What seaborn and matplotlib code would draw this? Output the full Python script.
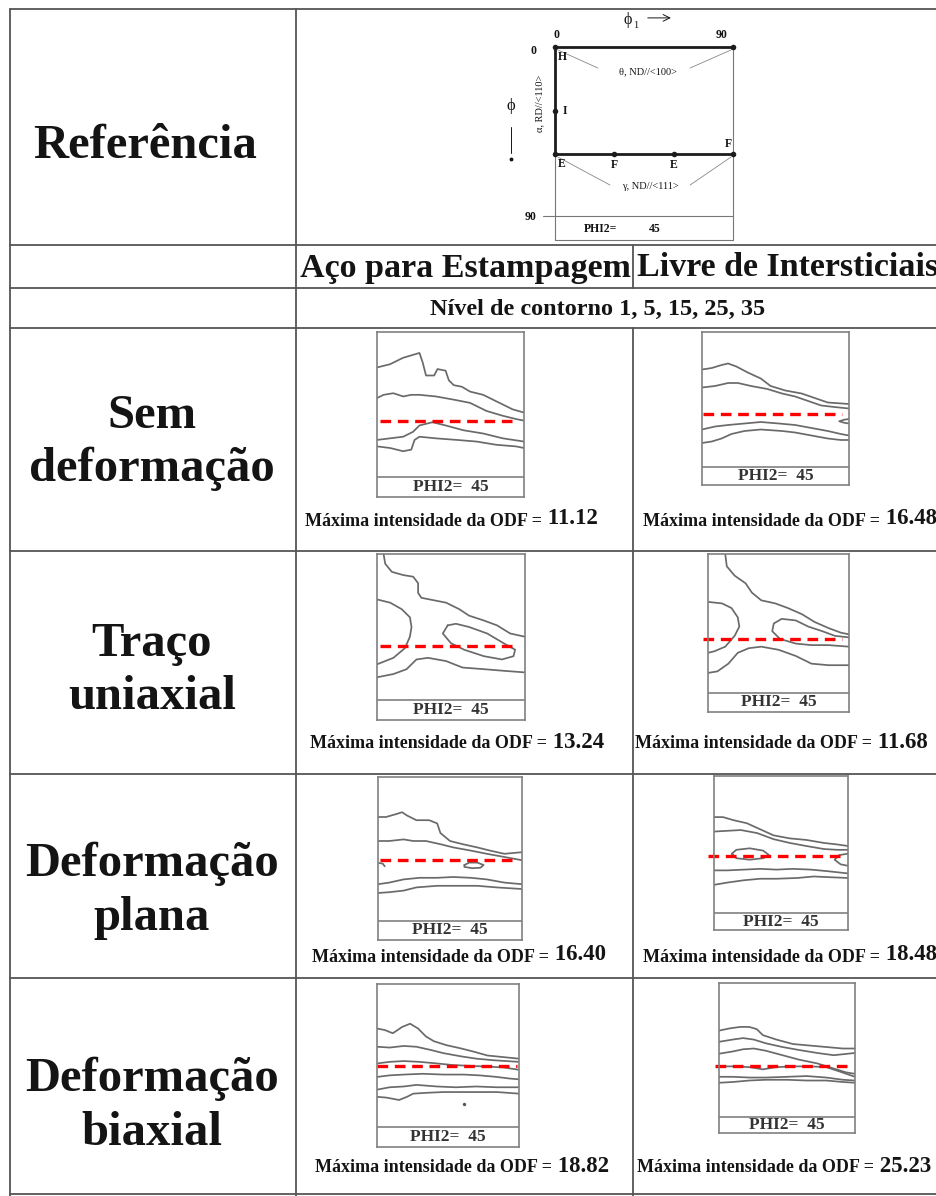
import matplotlib
matplotlib.use("Agg")
import matplotlib.pyplot as plt
import seaborn as sns

# ---------------- data ----------------
row_labels = [("Sem", "deformação"), ("Traço", "uniaxial"),
              ("Deformação", "plana"), ("Deformação", "biaxial")]
col_labels = ["Aço para Estampagem", "Livre de Intersticiais"]
contour_levels = [1, 5, 15, 25, 35]
max_intensity = [[11.12, 16.48], [13.24, 11.68], [16.40, 18.48], [18.82, 25.23]]
phi2_section = 45

# contour polylines per panel: (phi1 values, Phi values) in degrees
sem_aco = [
    ([0, 8, 16, 26, 28, 30, 35, 37, 42, 44, 47, 52, 57, 65, 73, 83, 90],
     [22, 20, 16, 13, 19, 27, 27, 23, 24, 30, 33, 34, 37, 39, 43, 48, 50]),
    ([0, 4, 10, 16, 21, 26, 36, 47, 57, 67, 77, 85, 90],
     [41, 39, 38, 40, 39, 39, 40, 42, 44, 49, 52, 54, 55]),
    ([0, 8, 16, 22, 26, 34, 42, 53, 65, 77, 90],
     [67, 66, 65, 62, 58, 56, 58, 61, 63, 66, 68]),
    ([0, 8, 16, 21, 23, 26, 36, 49, 61, 73, 85, 90],
     [71, 72, 74, 73, 67, 65, 66, 67, 68, 70, 71, 72]),
]
sem_if = [
    ([0, 6, 12, 16, 21, 28, 36, 42, 51, 61, 69, 77, 90],
     [25, 24, 22, 21, 23, 27, 31, 36, 39, 41, 44, 47, 48]),
    ([0, 8, 16, 22, 30, 40, 49, 57, 65, 73, 81, 90],
     [37, 36, 34, 34, 36, 38, 41, 43, 46, 49, 50, 51]),
    ([0, 8, 16, 26, 36, 47, 57, 67, 77, 85, 90],
     [65, 63, 62, 61, 60, 61, 62, 64, 66, 68, 69]),
    ([0, 6, 12, 18, 26, 36, 49, 57, 67, 77, 85, 90],
     [74, 73, 71, 68, 66, 65, 66, 67, 69, 71, 72, 72]),
    ([90, 87, 84, 87, 90], [58, 58.5, 59.5, 60.5, 61]),
]
tracao_aco = [
    ([4, 5, 9, 16, 22, 25, 25, 27, 32, 42, 50, 56, 65, 73, 81, 90],
     [0, 6, 11, 13, 14, 18, 24, 27, 28, 30, 34, 38, 41, 44, 49, 51]),
    ([0, 8, 15, 20, 21, 20, 17, 10, 0],
     [28, 30, 34, 39, 45, 51, 58, 64, 68]),
    ([0, 10, 18, 24, 31, 42, 52, 65, 77, 90],
     [76, 74, 71, 65, 64, 66, 70, 71, 72, 73]),
    ([43, 48, 56, 67, 77, 84, 83, 76, 65, 53, 45, 40, 43],
     [44, 43, 45, 49, 55, 59, 63, 65, 63, 59, 55, 49, 44]),
]
tracao_if = [
    ([11, 12, 17, 24, 28, 34, 43, 51, 60, 68, 77, 85, 90],
     [0, 8, 14, 19, 25, 30, 32, 35, 39, 44, 48, 51, 52]),
    ([0, 9, 15, 19, 20, 17, 11, 4, 0],
     [31, 32, 35, 41, 47, 53, 60, 63, 64]),
    ([0, 6, 13, 19, 26, 34, 45, 56, 66, 77, 90],
     [77, 76, 71, 64, 61, 60, 62, 66, 71, 72, 72]),
    ([90, 81, 73, 64, 56, 47, 42, 41, 46, 56, 66, 77, 90],
     [54, 53, 50, 47, 43, 42, 45, 50, 55, 58, 59, 59, 60]),
]
plana_aco = [
    ([0, 5, 12, 15, 18, 24, 32, 37, 39, 45, 53, 62, 70, 79, 90],
     [25, 25, 23, 22, 24, 27, 27, 29, 35, 40, 42, 44, 46, 48, 47]),
    ([0, 7, 16, 22, 30, 39, 47, 58, 68, 79, 90],
     [40, 40, 39, 40, 40, 42, 44, 46, 48, 50, 52]),
    ([54, 57, 62, 66, 64, 59, 54, 54],
     [55, 53.5, 53.5, 55, 56.7, 57, 56.2, 55]),
    ([0.6, 3, 4.2], [53.7, 54.2, 55.8]),
    ([0, 7, 16, 26, 37, 47, 58, 68, 79, 90],
     [67, 66, 64, 63, 63, 62.5, 63, 64, 66, 67]),
    ([0, 7, 16, 24, 37, 49, 62, 74, 90],
     [72.5, 72, 71, 69, 68, 68, 68, 69, 70]),
]
plana_if = [
    ([0, 6, 13, 22, 31, 40, 51, 62, 74, 83, 90],
     [27, 27, 29, 31, 35, 39, 41, 42, 44, 45, 46]),
    ([0, 9, 18, 29, 40, 51, 62, 74, 83, 90],
     [36.5, 36, 35.5, 37.5, 41.5, 44, 46, 48, 48.5, 48.5]),
    ([12, 15, 24, 33, 37, 33, 24, 15, 12],
     [51, 48.5, 47.5, 49, 52, 54, 55, 54, 51]),
    ([90, 84, 81, 85, 90], [51, 52, 55, 58, 59]),
    ([0, 9, 20, 31, 42, 53, 65, 76, 90],
     [62, 62, 61.5, 61, 61.5, 61, 61.5, 62.5, 64]),
    ([0, 9, 20, 31, 42, 56, 67, 78, 90],
     [71.5, 70, 68.5, 67.5, 67.5, 67, 66, 66.5, 67]),
]
biax_aco = [
    ([0, 5, 10, 16, 21, 26, 31, 36, 44, 53, 61, 70, 80, 90],
     [28, 29, 31, 27, 25, 28, 33, 36, 38.5, 40.5, 42.5, 45, 46, 47]),
    ([0, 8, 17, 25, 34, 42, 53, 63, 74, 90],
     [39.5, 40, 39, 39.5, 41.5, 43.5, 45.5, 47, 48, 49]),
    ([0, 8, 17, 27, 38, 48, 59, 70, 80, 90],
     [50, 49, 48.5, 49, 50, 51, 51.5, 52, 52.5, 54]),
    ([0, 8, 17, 29, 42, 55, 65, 76, 84, 90],
     [58.5, 57.5, 57, 56.5, 57, 57, 57.5, 58.5, 59.5, 60]),
    ([0, 8, 17, 25, 38, 50, 63, 76, 90],
     [66.5, 65, 64.5, 63.5, 64.5, 65, 64.5, 65, 65]),
    ([0, 6, 14, 19, 23, 31, 42, 53, 63, 76, 90],
     [71, 71.5, 73, 71, 69, 68.5, 68, 68, 68, 68, 69]),
]
biax_if = [
    ([0, 7, 14, 20, 25, 29, 38, 49, 60, 71, 82, 90],
     [32, 30.5, 29.5, 29.5, 31, 35, 38, 41, 42, 43, 44, 44]),
    ([0, 9, 16, 23, 31, 42, 53, 65, 76, 90],
     [39.5, 38, 37, 38, 40.5, 43, 45, 47, 48.5, 47]),
    ([0, 9, 16, 23, 31, 42, 53, 65, 76, 84, 90],
     [47.5, 46, 44.5, 44, 45.5, 48.5, 51.5, 54, 57.5, 60, 61]),
    ([0, 9, 20, 29, 38, 49, 60, 71, 80, 90],
     [56, 56, 56.5, 58, 56.5, 56, 56, 56.5, 59.5, 63]),
    ([0, 9, 20, 31, 45, 58, 71, 82, 90],
     [63, 63, 63.5, 63.5, 63, 62.5, 63.5, 65, 65.5]),
    ([0, 9, 20, 31, 45, 58, 71, 82, 90],
     [67, 66.5, 65.5, 65, 65, 65.5, 65.5, 66.5, 67]),
]
panel_lines = [[sem_aco, sem_if], [tracao_aco, tracao_if],
               [plana_aco, plana_if], [biax_aco, biax_if]]
panel_dots = {(3, 0): ([55], [75.7])}
# red dashed marker (gamma fibre) level, Phi in degrees
gamma_marker_phi = [[55.3, 54.8], [56.5, 54.9], [52.1, 52.4], [51.7, 55.8]]

# reference diagram: fibres and special orientations
theta_phi1, theta_Phi = [0, 90], [0, 0]
alpha_phi1, alpha_Phi = [0, 0], [0, 57]
gamma_phi1, gamma_Phi = [0, 90], [57, 57]
orient_names = ["H", "I", "E", "F", "E", "F", ""]
orient_phi1 = [0, 0, 0, 30, 60, 90, 90]
orient_Phi = [0, 34, 57, 57, 57, 57, 0]

# ---------------- layout / style ----------------
sns.set_theme(style="white")
plt.rcParams['font.family'] = ['Liberation Serif', 'DejaVu Serif']

W, H = 936, 1196
fig = plt.figure(figsize=(W / 100, H / 100), dpi=100)
fig.patch.set_facecolor('white')
bg = fig.add_axes([0, 0, 1, 1])
bg.set_xlim(0, W)
bg.set_ylim(H, 0)
bg.axis('off')

TXT = '#141414'
LINE = '#555555'
tl = dict(color=LINE, lw=1.3)

# table grid
for y in [9, 245, 288, 328, 551, 774, 978, 1194]:
    bg.plot([10, W], [y, y], **tl)
bg.plot([10, 10], [9, H], **tl)
bg.plot([296, 296], [9, H], **tl)
bg.plot([633, 633], [245, 288], **tl)
bg.plot([633, 633], [328, H], **tl)

bold = dict(fontweight='bold', color=TXT)
bg.text(145, 146, "Referência", fontsize=35, ha='center', va='center', **bold)
bg.text(465, 268, col_labels[0], fontsize=24.5, ha='center', va='center', **bold)
bg.text(637, 268, col_labels[1], fontsize=24.5, ha='left', va='center', **bold)
bg.text(598, 309, "Nível de contorno " + ", ".join(str(v) for v in contour_levels),
        fontsize=17.5, ha='center', va='center', **bold)

row_y = [(416, 469), (644, 697), (864, 918), (1079, 1133)]
for (l1, l2), (y1, y2) in zip(row_labels, row_y):
    bg.text(152, y1, l1, fontsize=35, ha='center', va='center', **bold)
    bg.text(152, y2, l2, fontsize=35, ha='center', va='center', **bold)

max_y = [521, 744, 957, 1168]
max_x = [[305, 643], [310, 635], [312, 643], [315, 637]]
for i, row in enumerate(max_intensity):
    for j, v in enumerate(row):
        t = bg.text(max_x[i][j], max_y[i], "Máxima intensidade da ODF =",
                    fontsize=13.0, ha='left', va='center', **bold)
        bg.annotate(f" {v:.2f}", xy=(1, 0), xycoords=t, ha='left', va='bottom',
                    fontsize=16.5, **bold)

# ---------------- ODF panels ----------------
boxes = [[(377, 332, 524, 497, 477), (702, 332, 849, 485, 467)],
         [(377, 554, 525, 720, 700), (708, 554, 849, 712, 693)],
         [(378, 777, 522, 940, 921), (714, 776, 848, 930, 913)],
         [(377, 984, 519, 1147, 1127), (719, 983, 855, 1133, 1117)]]
red_span = [[(1.8, 86.3), (0.6, 85.7)], [(1.8, 85.7), (-3.2, 85.7)],
            [(1.3, 86.9), (-4.0, 86.9)], [(0.0, 88.7), (-2.6, 88.0)]]
CONT = '#6a6a6a'
for i in range(4):
    for j in range(2):
        l, t, r, b, s = boxes[i][j]
        ax = fig.add_axes([l / W, 1 - b / H, (r - l) / W, (b - t) / H])
        strip = (b - s) / (s - t) * 90
        ax.set_xlim(0, 90)
        ax.set_ylim(90 + strip, 0)
        for xs, ys in panel_lines[i][j]:
            sns.lineplot(x=xs, y=ys, sort=False, estimator=None, color=CONT,
                         linewidth=1.25, ax=ax)
        if (i, j) in panel_dots:
            dx, dy = panel_dots[(i, j)]
            sns.scatterplot(x=dx, y=dy, color='#555', s=6, linewidth=0, ax=ax)
        ax.axhline(90, color='#808080', lw=1.2)
        ax.text(45, 90 + strip / 2, f"PHI2=  {phi2_section}", ha='center', va='center',
                fontsize=12.5, fontweight='bold', color='#333333')
        x0, x1 = red_span[i][j]
        ax.plot([x0, x1], [gamma_marker_phi[i][j]] * 2, color='#ff0000', lw=2.4,
                ls=(0, (3.2, 2.0)), clip_on=False)
        ax.set(xticks=[], yticks=[], xlabel='', ylabel='')
        for sp in ax.spines.values():
            sp.set_color('#808080')
            sp.set_linewidth(1.2)

# ---------------- reference diagram ----------------
rax = fig.add_axes([555 / W, 1 - 216 / H, 178 / W, 169 / H])
rax.set_xlim(0, 90)
rax.set_ylim(90, 0)
rax.axis('off')
sd = 24 * 90 / 169
thin = dict(color='#777777', lw=0.8, clip_on=False)
rax.plot([0, 0], [57, 90 + sd], **thin)
rax.plot([90, 90], [0, 90 + sd], **thin)
rax.plot([-6, 90], [90, 90], **thin)
rax.plot([0, 90], [90 + sd, 90 + sd], **thin)
for fx, fy in [(theta_phi1, theta_Phi), (alpha_phi1, alpha_Phi), (gamma_phi1, gamma_Phi)]:
    sns.lineplot(x=fx, y=fy, sort=False, estimator=None, color='#1c1c1c',
                 linewidth=2.0, ax=rax, clip_on=False)
sns.scatterplot(x=orient_phi1, y=orient_Phi, color='#1c1c1c', s=16, linewidth=0,
                ax=rax, clip_on=False, zorder=5)
rax.set(xlabel='', ylabel='')
lab_off = [(4, 5.5), (5, 0), (3.5, 5.5), (0, 6), (0, 6), (-2.5, -5.5), (0, 0)]
for nm, px, py, (ox, oy) in zip(orient_names, orient_phi1, orient_Phi, lab_off):
    if nm:
        rax.text(px + ox, py + oy, nm, fontsize=8.5, fontweight='bold',
                 ha='center', va='center', color=TXT, clip_on=False)
sm = dict(fontsize=8.5, fontweight='bold', ha='center', va='center', color=TXT)
rax.text(1, -6.4, "0", **sm)
rax.text(84.4, -6.4, "90", **sm)
rax.text(-11.1, 2.1, "0", **sm)
rax.text(-12.6, 90.5, "90", **sm)
rax.text(36.9, -14.3, "ϕ", fontsize=11.5, ha='center', va='center', color=TXT)
rax.text(41, -11.6, "1", fontsize=7.5, ha='center', va='center', color=TXT)
rax.annotate('', xy=(60, -15.5), xytext=(45.5, -15.5),
             arrowprops=dict(arrowstyle='->', lw=0.7, color=TXT), annotation_clip=False)
rax.text(-22.2, 31.4, "ϕ", fontsize=12, ha='center', va='center', color=TXT)
rax.plot([-22.2, -22.2], [42.6, 56.4], color=TXT, lw=0.7, clip_on=False)
rax.plot([-22.2], [59.6], marker='o', ms=1.8, color=TXT, clip_on=False)
rax.text(-7.6, 29.8, "α, RD//<110>", fontsize=7.5, rotation=90,
         ha='center', va='center', color=TXT)
rax.text(47, 13.3, "θ, ND//<100>", fontsize=7.5, ha='center', va='center', color=TXT)
rax.text(48, 74.5, "γ, ND//<111>", fontsize=7.5, ha='center', va='center', color=TXT)
lead = dict(color='#888888', lw=0.6, clip_on=False)
rax.plot([1.5, 21.7], [1.6, 11.2], **lead)
rax.plot([68.3, 90], [11.2, 1.1], **lead)
rax.plot([1.5, 27.8], [58.6, 73.5], **lead)
rax.plot([68.3, 89], [73.5, 58.6], **lead)
rax.text(22.8, 96.9, "PHI2=", fontsize=8.5, fontweight='bold', ha='center',
         va='center', color=TXT)
rax.text(50.6, 96.9, str(phi2_section), fontsize=8.5, fontweight='bold',
         ha='center', va='center', color=TXT)

fig.savefig("out.png", dpi=100, facecolor='white')
